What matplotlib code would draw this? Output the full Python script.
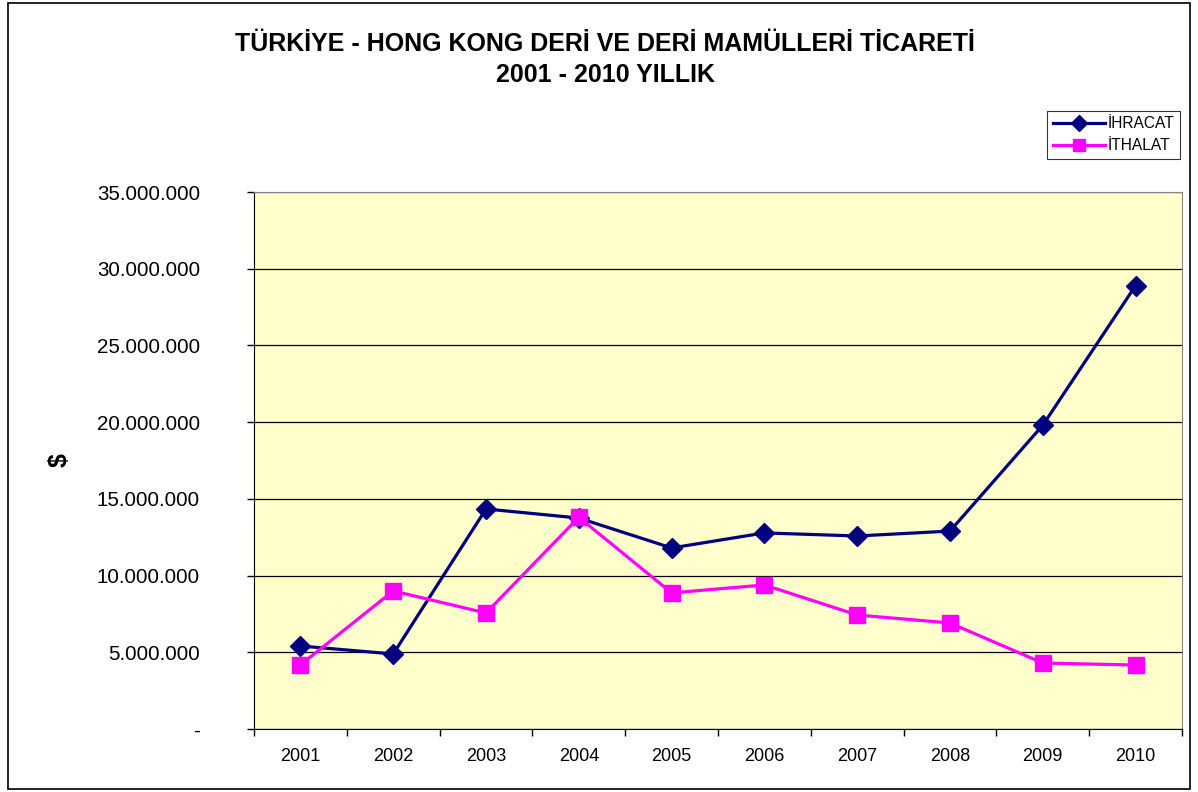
import matplotlib
matplotlib.use("Agg")
import matplotlib.pyplot as plt
from matplotlib.patches import Rectangle
from matplotlib.ticker import FuncFormatter

years = ["2001", "2002", "2003", "2004", "2005", "2006", "2007", "2008", "2009", "2010"]
ihracat = [5.41e6, 4.89e6, 14.34e6, 13.75e6, 11.8e6, 12.78e6, 12.58e6, 12.9e6, 19.8e6, 28.9e6]
ithalat = [4.17e6, 9.0e6, 7.56e6, 13.8e6, 8.87e6, 9.39e6, 7.43e6, 6.91e6, 4.3e6, 4.17e6]

plt.rcParams['font.family'] = ['Liberation Sans', 'DejaVu Sans']

fig = plt.figure(figsize=(11.98, 7.92), dpi=100)
fig.patches.append(Rectangle((8/1198, 1-789/792), 1182/1198, 786/792, transform=fig.transFigure,
                             fill=False, edgecolor='black', linewidth=1.2))

ax = fig.add_axes([254/1198, 1-729/792, 928/1198, 537/792])
ax.set_facecolor('#FFFFCC')
x = list(range(len(years)))
ax.plot(x, ihracat, color='#000080', marker='D', markersize=10, linewidth=2.3, label='İHRACAT')
ax.plot(x, ithalat, color='#FF00FF', marker='s', markersize=11, linewidth=2.3, label='İTHALAT')

ax.set_xlim(-0.5, len(years) - 0.5)
ax.set_ylim(0, 35e6)
ax.set_yticks([i * 5e6 for i in range(8)])
ax.yaxis.set_major_formatter(FuncFormatter(lambda v, p: '-' if v == 0 else f"{int(v):,}".replace(',', '.')))
ax.set_xticks(x)
ax.set_xticklabels(years)
ax.set_xticks([i - 0.5 for i in range(len(years) + 1)], minor=True)
ax.tick_params(axis='x', which='major', length=0, labelsize=13, pad=14)
ax.tick_params(axis='x', which='minor', length=5, width=1, direction='out')
ax.tick_params(axis='y', which='major', length=5, width=1, direction='out', labelsize=14.8, pad=34)
ax.grid(axis='y', color='black', linewidth=0.9)
ax.set_axisbelow(True)
for s in ['top', 'right']:
    ax.spines[s].set_color('#888888')
ax.spines['left'].set_color('black')
ax.spines['bottom'].set_color('black')

ax.set_ylabel('$', fontsize=18, fontweight='bold', labelpad=18)

fig.text(605/1198, 1-44/792, 'TÜRKİYE - HONG KONG DERİ VE DERİ MAMÜLLERİ TİCARETİ',
         ha='center', va='center', fontsize=18, fontweight='bold')
fig.text(605/1198, 1-75/792, '2001 - 2010 YILLIK',
         ha='center', va='center', fontsize=18, fontweight='bold')

leg = fig.legend(loc='upper right', bbox_to_anchor=(1180/1198, 1-111/792), fontsize=11.2,
                 frameon=True, fancybox=False, edgecolor='black', handlelength=3.4,
                 borderpad=0.35, labelspacing=0.45, handletextpad=0.15, borderaxespad=0)
leg.get_frame().set_linewidth(0.8)
for h in leg.legend_handles:
    h.set_markersize(8)

fig.savefig('out.png', dpi=100)
